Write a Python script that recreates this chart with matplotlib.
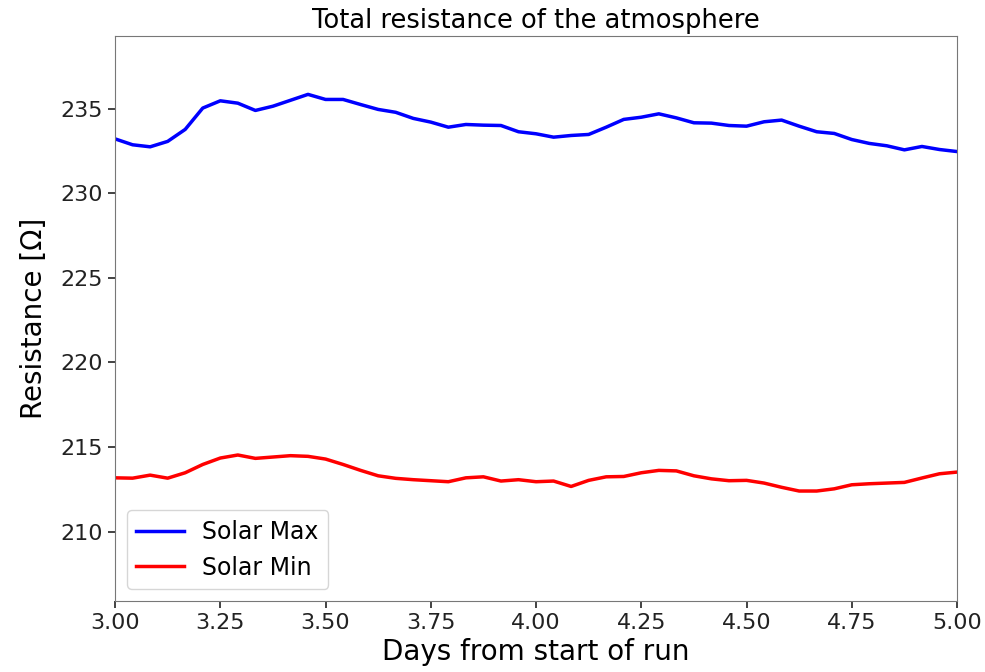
import matplotlib

matplotlib.use("Agg")
import matplotlib.pyplot as plt
import numpy as np

# hourly samples, day 3 to day 5 of the run
days = np.arange(49) / 24.0 + 3.0

solar_max = [
    233.22, 232.87, 232.75, 233.07, 233.78, 235.04, 235.47, 235.33, 234.90, 235.15,
    235.50, 235.85, 235.55, 235.55, 235.25, 234.96, 234.79, 234.43, 234.21, 233.91,
    234.07, 234.03, 234.01, 233.64, 233.52, 233.32, 233.42, 233.48, 233.91, 234.37,
    234.50, 234.70, 234.46, 234.17, 234.15, 234.01, 233.97, 234.23, 234.33, 233.97,
    233.64, 233.54, 233.18, 232.95, 232.81, 232.57, 232.77, 232.59, 232.47,
]

solar_min = [
    213.18, 213.16, 213.34, 213.16, 213.48, 213.97, 214.35, 214.53, 214.33, 214.41,
    214.49, 214.45, 214.29, 213.97, 213.62, 213.30, 213.15, 213.07, 213.01, 212.95,
    213.18, 213.24, 212.99, 213.07, 212.95, 212.99, 212.67, 213.03, 213.24, 213.26,
    213.48, 213.62, 213.59, 213.30, 213.12, 213.01, 213.03, 212.87, 212.62, 212.40,
    212.40, 212.53, 212.77, 212.83, 212.87, 212.91, 213.17, 213.42, 213.52,
]

xticks = [3.00, 3.25, 3.50, 3.75, 4.00, 4.25, 4.50, 4.75, 5.00]
yticks = [210, 215, 220, 225, 230, 235]

fig = plt.figure(figsize=(9.85, 6.72), dpi=100)
ax = fig.add_axes([0.1168, 0.1057, 0.8548, 0.8407])

ax.plot(days, solar_max, color="blue", lw=2.5, label="Solar Max")
ax.plot(days, solar_min, color="red", lw=2.5, label="Solar Min")

ax.set_xlim(3.0, 5.0)
ax.set_ylim(205.9, 239.3)
ax.set_xticks(xticks)
ax.set_xticklabels([f"{t:.2f}" for t in xticks])
ax.set_yticks(yticks)
ax.tick_params(labelsize=16, length=5, width=1.2, colors="#222222")
for spine in ax.spines.values():
    spine.set_color("#777777")

ax.set_title("Total resistance of the atmosphere", fontsize=18.5)
ax.set_xlabel("Days from start of run", fontsize=20)
ax.set_ylabel("Resistance [Ω]", fontsize=20, labelpad=9)
ax.legend(loc="lower left", fontsize=17)

fig.savefig("out.png", dpi=100)
